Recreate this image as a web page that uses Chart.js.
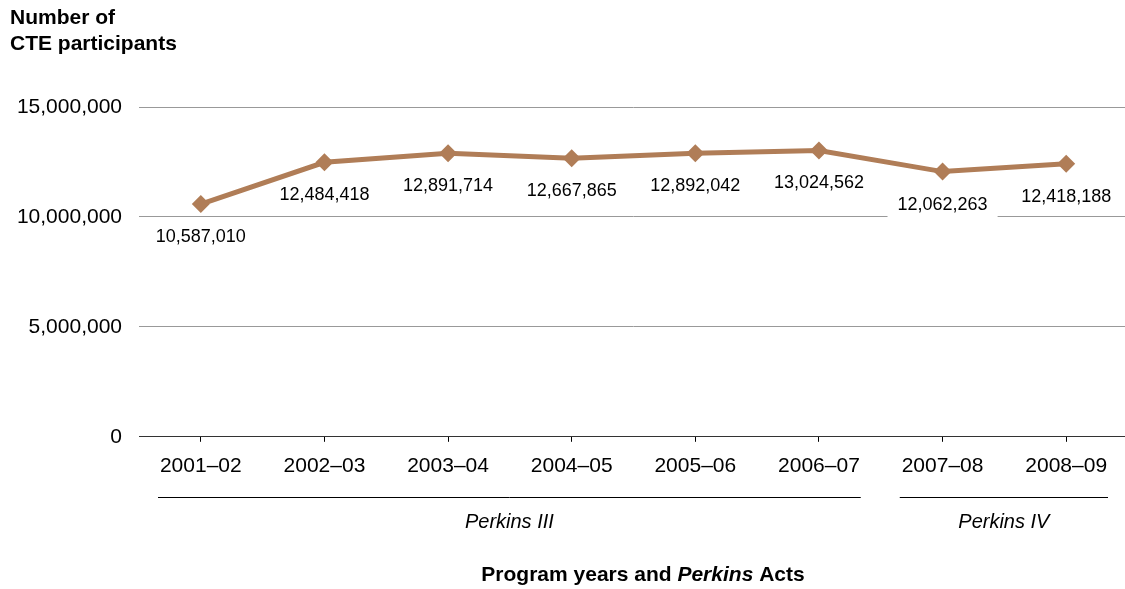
<!DOCTYPE html>
<html>
<head>
<meta charset="utf-8">
<script src="https://cdn.jsdelivr.net/npm/chart.js@4"></script>
<style>
	html, body { margin: 0; padding: 0; background: #fff; overflow: hidden; }
	#wrap { width: 1137px; height: 589px; position: relative; }
</style>
</head>
<body>
<div id="wrap"><canvas id="ctePart"></canvas></div>
<script>
const years = ['2001–02','2002–03','2003–04','2004–05','2005–06','2006–07','2007–08','2008–09'];
const participants = [10587010, 12484418, 12891714, 12667865, 12892042, 13024562, 12062263, 12418188];
const yTicks = [0, 5000000, 10000000, 15000000];
const acts = [
	{ name: 'Perkins III', from: 0, to: 5 },
	{ name: 'Perkins IV', from: 6, to: 7 }
];

const lineColor = '#B07D57';
const FONT = '"Liberation Sans", Arial, sans-serif';
const fmt = v => v.toLocaleString('en-US');

// value labels under each point; white box goes under the line but over the grid
const valueLabels = {
	id: 'valueLabels',
	beforeDatasetsDraw(chart){
		const c = chart.ctx;
		const meta = chart.getDatasetMeta(0);
		c.save();
		c.font = '18px ' + FONT;
		c.fillStyle = '#fff';
		meta.data.forEach((pt, i) => {
			const w = c.measureText(fmt(participants[i])).width;
			c.fillRect(pt.x - w/2 - 10, pt.y + 33 - 14, w + 20, 28);
		});
		c.restore();
	},
	afterDatasetsDraw(chart){
		const c = chart.ctx;
		const meta = chart.getDatasetMeta(0);
		c.save();
		c.font = '18px ' + FONT;
		c.textAlign = 'center';
		c.textBaseline = 'middle';
		c.fillStyle = '#000';
		meta.data.forEach((pt, i) => {
			c.fillText(fmt(participants[i]), pt.x, pt.y + 33);
		});
		c.restore();
	}
};

// act brackets, axis title and y title
const extras = {
	id: 'extras',
	afterDraw(chart){
		const c = chart.ctx;
		const x = chart.scales.x;
		const half = (x.getPixelForValue(1) - x.getPixelForValue(0)) / 2;
		c.save();
		c.strokeStyle = '#000';
		c.lineWidth = 1;
		c.fillStyle = '#000';
		c.textAlign = 'center';
		c.textBaseline = 'middle';
		c.font = 'italic 20px ' + FONT;
		acts.forEach(a => {
			const l = x.getPixelForValue(a.from) - half + 19;
			const r = x.getPixelForValue(a.to) + half - 20;
			c.beginPath();
			c.moveTo(l, 497.5);
			c.lineTo(r, 497.5);
			c.stroke();
			c.fillText(a.name, (l + r) / 2, 522);
		});
		// x title, mixed bold / bold italic
		const parts = [
			['bold 21px ' + FONT, 'Program years and '],
			['italic bold 21px ' + FONT, 'Perkins'],
			['bold 21px ' + FONT, ' Acts']
		];
		let total = 0;
		parts.forEach(p => { c.font = p[0]; total += c.measureText(p[1]).width; });
		let cx = 643 - total / 2;
		c.textAlign = 'left';
		parts.forEach(p => {
			c.font = p[0];
			c.fillText(p[1], cx, 575);
			cx += c.measureText(p[1]).width;
		});
		// y title
		c.font = 'bold 21px ' + FONT;
		c.fillText('Number of', 10, 18);
		c.fillText('CTE participants', 10, 44);
		c.restore();
	}
};

new Chart(document.getElementById('ctePart'), {
	type: 'line',
	data: {
		labels: years,
		datasets: [{
			data: participants,
			borderColor: lineColor,
			backgroundColor: lineColor,
			borderWidth: 5,
			pointStyle: 'rectRot',
			pointRadius: 9,
			pointHoverRadius: 9,
			pointBorderWidth: 0,
			tension: 0
		}]
	},
	options: {
		responsive: true,
		maintainAspectRatio: false,
		animation: false,
		events: [],
		layout: { padding: { top: 107, right: 0, bottom: 98, left: 0 } },
		plugins: { legend: { display: false }, tooltip: { enabled: false } },
		scales: {
			x: {
				offset: true,
				afterFit: s => { s.paddingRight = 0; s.paddingLeft = 0; },
				grid: { display: true, drawOnChartArea: false, offset: false, tickLength: 5, color: '#000' },
				border: { display: true, color: '#333', width: 1 },
				ticks: { color: '#000', padding: 12, font: { size: 21, family: FONT } }
			},
			y: {
				min: 0,
				max: 15000000,
				afterBuildTicks: s => { s.ticks = yTicks.map(v => ({ value: v })); },
				afterFit: s => { s.width = 139; },
				grid: { color: '#999', tickLength: 0, drawTicks: false },
				border: { display: false },
				ticks: {
					color: '#000',
					padding: 17,
					font: { size: 21, family: FONT },
					callback: v => fmt(v)
				}
			}
		}
	},
	plugins: [valueLabels, extras]
});
</script>
</body>
</html>
